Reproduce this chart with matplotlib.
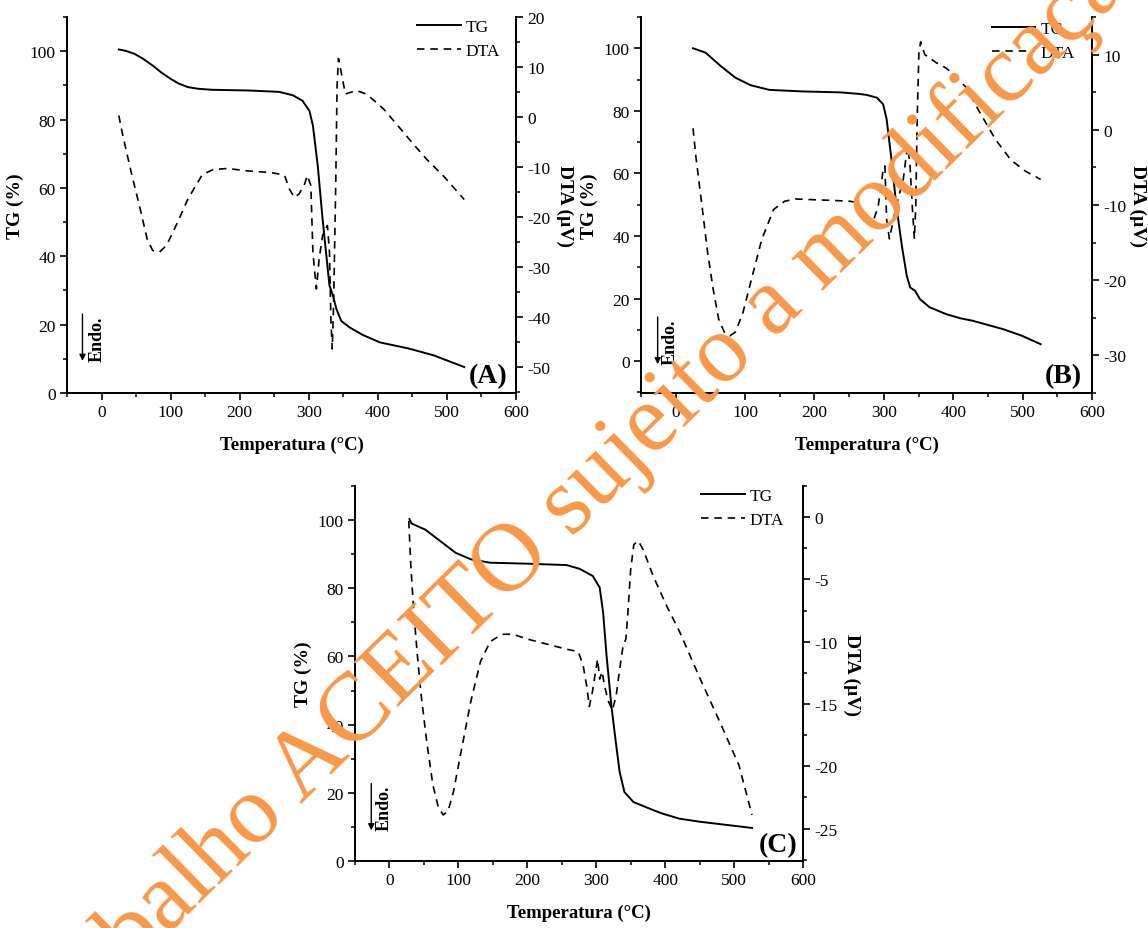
import matplotlib
matplotlib.use('Agg')
import matplotlib.pyplot as plt
from matplotlib.ticker import MultipleLocator

plt.rcParams['font.family'] = ['Liberation Serif', 'DejaVu Serif']
plt.rcParams['axes.unicode_minus'] = False

# ---------------- data ----------------
# Panel A
A_T_tg = [25, 35, 48, 60, 74, 87, 100, 112, 125, 140, 160, 213, 257, 277, 291, 301, 306, 313, 320, 325,
          330, 335, 340, 347, 359, 378, 403, 445, 481, 525]
A_tg = [100.5, 100.1, 99.2, 97.8, 95.8, 93.7, 91.9, 90.5, 89.5, 89.0, 88.7, 88.5, 88.1, 87.1, 85.5, 82.5, 78.2,
        66.5, 50.9, 41.1, 31.4, 28.5, 24.6, 21.1, 19.2, 17.0, 14.8, 13.0, 11.0, 7.6]
A_T_dta = [25, 30, 43, 56, 66, 74, 84, 94, 110, 125, 146, 162, 182, 213, 244, 257, 265, 272, 279, 286, 294,
           298, 303, 306, 311, 315, 320, 327, 330, 332, 334, 336, 339, 341, 343, 347, 353, 369, 383, 398, 409,
           430, 450, 471, 497, 525]
A_dta = [0.3, -3.2, -11.1, -18.4, -24.4, -26.7, -27.0, -25.7, -21.1, -16.4, -11.5, -10.5, -10.3, -10.8, -11.1,
         -11.4, -11.7, -14.4, -16.1, -15.4, -13.4, -11.7, -13.7, -27.1, -34.4, -28.4, -23.7, -21.7, -27.1, -40.4,
         -46.4, -37.1, -13.7, 6.3, 11.7, 8.9, 4.6, 5.3, 4.6, 2.9, 1.5, -1.9, -5.2, -8.5, -12.1, -16.5]

# Panel B
B_T_tg = [25, 43, 65, 86, 108, 135, 184, 238, 265, 275, 290, 299, 304, 311, 318, 326, 333, 338, 345, 352,
          366, 390, 410, 428, 472, 499, 526]
B_tg = [100, 98.6, 94.3, 90.6, 88.2, 86.7, 86.2, 85.9, 85.4, 85.1, 84.2, 82.1, 77.3, 64.5, 49.6, 36.8, 27.3,
        23.5, 22.5, 19.8, 17.2, 15.0, 13.7, 12.9, 10.2, 8.1, 5.4]
B_T_dta = [25, 29, 38, 46, 54, 62, 70, 78, 86, 97, 108, 124, 141, 157, 173, 200, 228, 251, 263, 270, 277,
           285, 292, 299, 301.5, 304, 308, 311, 318, 328, 334, 337.5, 341, 344, 346, 348, 350.5, 353, 359,
           376, 390, 405, 418, 439, 461, 483, 504, 526]
B_dta = [0.2, -3.5, -10.2, -16.3, -21.2, -25.2, -26.9, -27.4, -26.9, -24.3, -20.3, -14.6, -10.6, -9.5, -9.2,
         -9.3, -9.4, -9.5, -9.7, -11.0, -12.3, -12.1, -10.1, -5.3, -4.8, -11.9, -14.5, -13.2, -10.1, -6.6,
         -2.2, -4.4, -10.2, -14.5, -10.2, 1.3, 10.2, 11.7, 10.0, 8.9, 8.2, 6.9, 5.7, 2.2, -1.3, -4.0, -5.5, -6.6]

# Panel C
C_T_tg = [29, 32, 52, 74, 96, 118, 146, 202, 257, 276, 295, 305, 310, 315, 322, 329, 334, 341, 354, 383,
          396, 421, 451, 526]
C_tg = [100.3, 99.0, 97.2, 93.8, 90.4, 88.5, 87.5, 87.2, 86.8, 85.7, 83.6, 80.2, 72.9, 60.2, 45.5, 33.9, 26.1,
        20.2, 17.3, 14.9, 13.9, 12.4, 11.5, 9.7]
C_T_dta = [28, 31, 35, 40.5, 46, 54, 63, 71, 78, 85, 93, 104, 118, 132, 146, 163, 179, 201, 229, 257, 274,
           281, 286, 290, 294.5, 299, 302, 305, 308.5, 312, 317, 323.5, 329, 334, 339, 343, 346, 350, 354.5,
           361, 368, 382.5, 402, 421, 451, 479, 507, 526]
C_dta = [-0.3, -3.9, -7.4, -11.1, -14.3, -18.0, -21.5, -23.3, -23.9, -23.6, -22.0, -18.8, -14.8, -11.6, -10.0,
         -9.4, -9.4, -9.8, -10.2, -10.6, -10.8, -11.9, -13.5, -15.2, -14.0, -12.4, -11.4, -13.0, -12.4, -13.5,
         -14.7, -15.5, -14.3, -12.2, -10.3, -9.8, -7.6, -4.2, -2.2, -1.9, -2.6, -4.7, -7.1, -9.2, -13.0, -16.4,
         -19.9, -23.9]

x_label = 'Temperatura (°C)'
tg_label = 'TG (%)'
dta_label = 'DTA (µV)'
series_names = ['TG', 'DTA']
panel_letters = ['(A)', '(B)', '(C)']
watermark = 'Trabalho ACEITO sujeito a modificação'

# ---------------- figure ----------------
W, H = 1148, 929
fig = plt.figure(figsize=(W / 100, H / 100), dpi=100)


def rect(l, r, t, b):
    return [l / W, 1 - b / H, (r - l) / W, (b - t) / H]


def panel(rc, T_tg, tg, T_dta, dta, tg_lim, dta_lim, dta_major, dta_minor, letter, leg_anchor,
          letter_xy, endo_x, endo_top, endo_bot, endo_text_x, rpad):
    ax = fig.add_axes(rc)
    ax2 = ax.twinx()
    ax.plot(T_tg, tg, color='black', lw=1.4, label=series_names[0])
    ax2.plot(T_dta, dta, color='black', lw=1.2, ls=(0, (4.5, 3.5)), label=series_names[1])
    ax.set_xlim(-50, 600)
    ax.set_ylim(*tg_lim)
    ax2.set_ylim(*dta_lim)
    ax.xaxis.set_major_locator(MultipleLocator(100))
    ax.xaxis.set_minor_locator(MultipleLocator(50))
    ax.yaxis.set_major_locator(MultipleLocator(20))
    ax.yaxis.set_minor_locator(MultipleLocator(10))
    ax2.yaxis.set_major_locator(MultipleLocator(dta_major))
    ax2.yaxis.set_minor_locator(MultipleLocator(dta_minor))
    for a in (ax, ax2):
        a.spines['top'].set_visible(False)
        for s in a.spines.values():
            s.set_linewidth(1.3)
        a.tick_params(which='major', direction='out', length=5, width=1.2, labelsize=12.5, pad=3)
        a.tick_params(which='minor', direction='out', length=3, width=1.1)
    ax.xaxis.set_ticks_position('bottom')
    ax.yaxis.set_ticks_position('left')
    ax2.yaxis.set_ticks_position('right')
    ax.set_xlabel(x_label, fontweight='bold', fontsize=13.5, labelpad=11)
    ax.set_ylabel(tg_label, fontweight='bold', fontsize=14, labelpad=4)
    ax2.set_ylabel(dta_label, fontweight='bold', fontsize=14, rotation=270, va='bottom', labelpad=rpad)
    h1, l1 = ax.get_legend_handles_labels()
    h2, l2 = ax2.get_legend_handles_labels()
    ax2.legend(h1 + h2, l1 + l2, loc='upper right', bbox_to_anchor=leg_anchor, frameon=False,
               fontsize=12.5, handlelength=2.5, handletextpad=0.3, labelspacing=0.45,
               borderpad=0, borderaxespad=0)
    ax.text(letter_xy[0], letter_xy[1], letter, transform=ax.transAxes, ha='right', va='bottom',
            fontsize=20, fontweight='bold')
    ax.annotate('', xy=(endo_x, endo_bot), xytext=(endo_x, endo_top),
                arrowprops=dict(arrowstyle='-|>', color='black', lw=1.0, mutation_scale=9,
                                shrinkA=0, shrinkB=0))
    ax.text(endo_text_x, endo_bot, 'Endo.', rotation=90, ha='center', va='bottom',
            fontsize=13, fontweight='bold')
    return ax, ax2


panel(rect(67, 516, 18, 394), A_T_tg, A_tg, A_T_dta, A_dta, (0, 110), (-55.2, 20), 10, 5,
      panel_letters[0], (0.965, 0.995), (0.982, 0.012), -27.6, 23.1, 9.4, -6.5, 4)
panel(rect(641, 1092, 18, 394), B_T_tg, B_tg, B_T_dta, B_dta, (-10.2, 110), (-35, 15), 10, 5,
      panel_letters[1], (0.962, 0.99), (0.978, 0.012), -26, 14.1, -1.0, -7.8, 2)
panel(rect(355, 803, 487, 862), C_T_tg, C_tg, C_T_dta, C_dta, (0, 110), (-27.6, 2.5), 5, 2.5,
      panel_letters[2], (0.958, 0.995), (0.987, 0.01), -26.4, 22.7, 9.0, -7.2, 4)

# watermark
fig.text(602 / W, 1 - 508 / H, watermark, rotation=44.5,
         rotation_mode='anchor', ha='center', va='baseline', fontsize=70, color='#F7984A',
         family='Liberation Serif', zorder=20)

fig.savefig('out.png', dpi=100, facecolor='white')
